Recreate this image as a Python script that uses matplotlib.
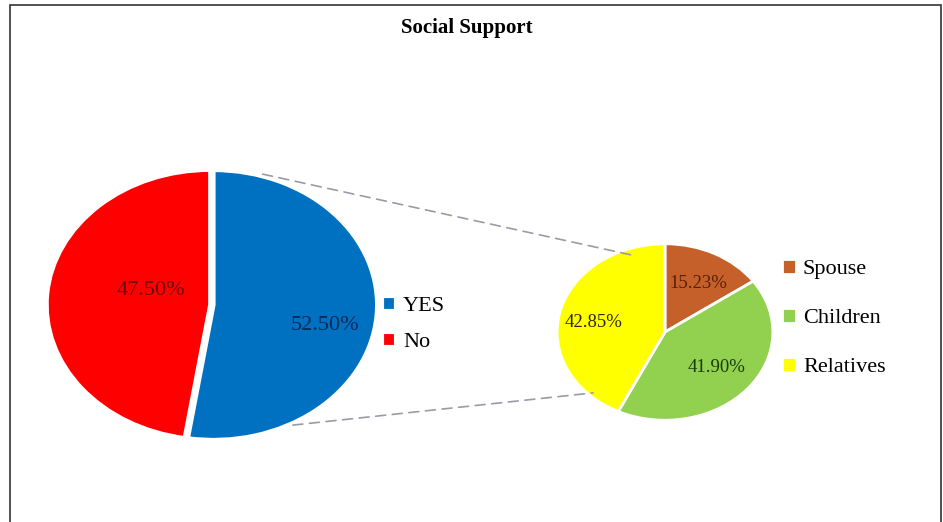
import matplotlib.pyplot as plt
from matplotlib.patches import ConnectionPatch, Rectangle

# datos
main_labels = ['YES', 'No']
main_values = [52.50, 47.50]
main_colors = ['#0070C0', '#FF0000']

sub_labels = ['Spouse', 'Children', 'Relatives']
sub_values = [15.23, 41.90, 42.85]
sub_colors = ['#C5602A', '#92D050', '#FFFF00']

plt.rcParams['font.family'] = ['Liberation Serif', 'DejaVu Serif']

W, H = 943, 522
fig = plt.figure(figsize=(W / 100, H / 100), dpi=100)


def fig_box(x0, y0, x1, y1):
    # caja en pixeles (origen arriba-izquierda) -> fracciones de figura
    return [x0 / W, 1 - y1 / H, (x1 - x0) / W, (y1 - y0) / H]


# marco del grafico
fig.patches.append(Rectangle((10 / W, -0.1), 931 / W, 1 - 5 / H + 0.1,
                             transform=fig.transFigure, fill=False,
                             edgecolor='#333333', linewidth=1.2))
fig.text(467 / W, 1 - 28 / H, 'Social Support', ha='center', va='center',
         fontsize=15, fontweight='bold')

# pastel principal
ax1 = fig.add_axes(fig_box(45, 166, 382, 444))
w1, t1 = ax1.pie(main_values, colors=main_colors, startangle=90,
                 counterclock=False, explode=[0, 0.02],
                 wedgeprops=dict(edgecolor='white', linewidth=3))
ax1.set_aspect('auto')
ax1.set_xlim(-1.03, 1.03)
ax1.set_ylim(-1.03, 1.03)
main_pos = [(0.68, -0.15), (-0.38, 0.11)]
main_txt = ['#0A2A5A', '#6A0A0A']
for v, (x, y), c in zip(main_values, main_pos, main_txt):
    ax1.text(x, y, f'{v:.2f}%', ha='center', va='center', fontsize=16, color=c)

# pastel secundario
ax2 = fig.add_axes(fig_box(555, 242, 775, 422))
w2, t2 = ax2.pie(sub_values, colors=sub_colors, startangle=90,
                 counterclock=False,
                 wedgeprops=dict(edgecolor='white', linewidth=2))
ax2.set_aspect('auto')
ax2.set_xlim(-1.02, 1.02)
ax2.set_ylim(-1.02, 1.02)
sub_pos = [(0.31, 0.545), (0.48, -0.40), (-0.66, 0.11)]
sub_txt = ['#5A2008', '#1A3A0A', '#2A2A00']
for v, (x, y), c in zip(sub_values, sub_pos, sub_txt):
    ax2.text(x, y, f'{v:.2f}%', ha='center', va='center', fontsize=13.5, color=c)

# lineas de conexion
for p1, p2 in [((0.30, 0.97), (-0.30, 0.87)), ((0.485, -0.89), (-0.667, -0.69))]:
    con = ConnectionPatch(xyA=p1, coordsA=ax1.transData, xyB=p2, coordsB=ax2.transData,
                          linestyle=(0, (6, 4)), color='#9A9AA8', linewidth=1.2)
    fig.add_artist(con)

# leyendas
fig.legend(w1, main_labels, loc='center left', bbox_to_anchor=(373 / W, 1 - 324 / H),
           frameon=False, fontsize=16, handlelength=0.65, handleheight=0.65,
           handletextpad=0.3, labelspacing=0.7, borderaxespad=0)
fig.legend(w2, sub_labels, loc='center left', bbox_to_anchor=(773 / W, 1 - 318 / H),
           frameon=False, fontsize=16, handlelength=0.65, handleheight=0.65,
           handletextpad=0.3, labelspacing=1.3, borderaxespad=0)

fig.savefig('out.png', dpi=100)
